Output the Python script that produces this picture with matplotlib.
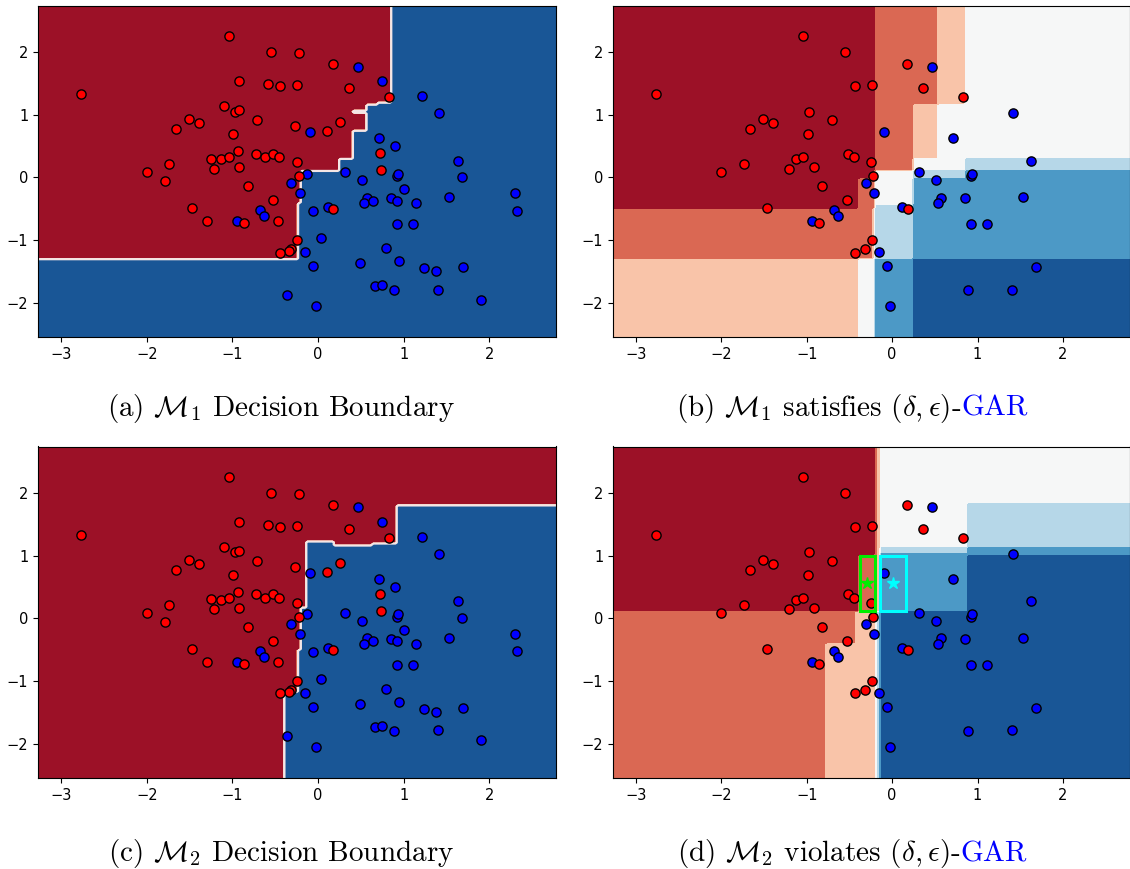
import numpy as np
import matplotlib
matplotlib.use("Agg")
import matplotlib.pyplot as plt
from matplotlib.path import Path
from matplotlib.patches import Rectangle

plt.rcParams["mathtext.fontset"] = "cm"

# ---------------- data ----------------
red_x = [-1.04, -0.55, -0.22, -0.92, -0.58, -0.44, -0.24, -2.77, -1.10, -0.97,
         -0.92, -1.51, -1.39, -0.71, -0.27, -1.66, -0.99, -0.93, -1.25, -1.13,
         -1.04, -0.72, -0.62, -0.52, -0.45, -0.25, -1.74, -1.21, -0.92, -2.00,
         0.17, 0.36, 0.83, 0.26, 0.11, 0.73, 0.74, -0.22, 0.18, -0.24,
         -0.32, -0.34, -0.44, -1.79, -0.82, -0.53, -1.47, -1.30, -0.86, -0.47]
red_y = [2.26, 2.00, 1.98, 1.54, 1.49, 1.46, 1.47, 1.33, 1.14, 1.05,
         1.07, 0.93, 0.87, 0.91, 0.82, 0.77, 0.69, 0.42, 0.30, 0.29,
         0.32, 0.38, 0.32, 0.38, 0.32, 0.24, 0.21, 0.14, 0.17, 0.08,
         1.81, 1.43, 1.28, 0.88, 0.74, 0.39, 0.12, 0.02, -0.51, -1.00,
         -1.14, -1.18, -1.20, -0.06, -0.14, -0.36, -0.49, -0.69, -0.73, -0.70]
blue_x = [0.47, 0.75, 1.21, 1.41, -0.09, 0.71, 0.90, 1.63, 0.92, 0.94,
          0.32, -0.13, 1.68, -0.31, 0.51, -0.21, 0.57, 0.54, 0.64, 0.85,
          0.92, 1.01, 1.15, 1.53, 2.30, 2.32, -0.06, 0.12, 0.92, 1.11,
          0.03, -0.15, 0.79, -0.06, 0.49, 0.95, 1.24, 1.38, 1.69, 0.67,
          0.75, 0.89, 1.40, 1.90, -0.02, -0.36, -0.68, -0.63, -0.94]
blue_y = [1.77, 1.54, 1.30, 1.03, 0.72, 0.63, 0.50, 0.27, 0.02, 0.06,
          0.09, 0.06, 0.01, -0.09, -0.04, -0.25, -0.32, -0.41, -0.37, -0.33,
          -0.37, -0.18, -0.41, -0.31, -0.25, -0.53, -0.54, -0.47, -0.75, -0.75,
          -0.97, -1.19, -1.13, -1.42, -1.36, -1.33, -1.45, -1.50, -1.43, -1.73,
          -1.72, -1.80, -1.79, -1.95, -2.05, -1.88, -0.52, -0.62, -0.70]
# points shown in the GAR panels (b) and (d)
red_sub = [0, 1, 5, 6, 7, 9, 11, 12, 13, 15, 16, 19, 20, 23, 24, 25, 26, 27, 28, 29,
           30, 31, 32, 37, 38, 39, 40, 42, 44, 45, 46, 48]
blue_sub = [0, 3, 4, 5, 7, 8, 9, 10, 13, 14, 15, 16, 17, 19, 23, 27, 28, 29, 31, 33,
            38, 41, 42, 44, 46, 47, 48]

# M1 decision boundary: class-0 (red) region polygon
m1_red_vx = [-3.6, 0.855, 0.855, 0.58, 0.57, 0.40, 0.40, 0.56, 0.56, 0.41, 0.41,
             0.26, 0.26, -0.19, -0.19, -0.24, -0.24, -3.6]
m1_red_vy = [3.0, 3.0, 1.20, 1.16, 1.07, 1.05, 1.03, 1.02, 0.76, 0.745, 0.30,
             0.30, 0.11, 0.10, -0.38, -0.41, -1.31, -1.31]
# M2 decision boundary: class-1 (blue) region polygon
m2_blue_vx = [3.2, 0.92, 0.92, 0.175, 0.175, -0.145, -0.145, -0.19, -0.19, -0.25,
              -0.22, -0.23, -0.23, -0.385, -0.385, 3.2]
m2_blue_vy = [1.80, 1.80, 1.18, 1.17, 1.23, 1.24, 0.18, 0.15, -0.50, -0.54,
              -0.57, -0.62, -1.17, -1.22, -3.0, -3.0]

# M1 probability bands (0 = most red ... 6 = most blue), rows bottom -> top
m1_xedges = [-3.6, -0.39, -0.24, -0.19, 0.25, 0.55, 0.85, 3.2]
m1_yedges = [-3.0, -1.30, -0.50, -0.45, -0.01, 0.10, 0.29, 1.17, 3.0]
m1_bands = [[2, 3, 3, 5, 6, 6, 6],
            [1, 1, 2, 4, 5, 5, 5],
            [0, 1, 1, 4, 5, 5, 5],
            [0, 1, 1, 3, 5, 5, 5],
            [0, 0, 0, 3, 4, 4, 5],
            [0, 0, 0, 1, 3, 3, 4],
            [0, 0, 0, 1, 2, 3, 3],
            [0, 0, 0, 1, 1, 2, 3]]
# M2 probability bands
m2_xedges = [-3.6, -0.76, -0.41, -0.38, -0.195, -0.165, -0.13, 0.88, 3.2]
m2_yedges = [-3.0, -0.40, 0.11, 0.99, 1.04, 1.14, 1.82, 3.0]
m2_bands = [[1, 2, 2, 2, 3, 4, 6, 6],
            [1, 1, 2, 2, 3, 4, 6, 6],
            [0, 0, 0, 1, 1, 2, 5, 6],
            [0, 0, 0, 0, 1, 2, 5, 5],
            [0, 0, 0, 0, 1, 2, 4, 5],
            [0, 0, 0, 0, 1, 2, 3, 4],
            [0, 0, 0, 0, 1, 2, 3, 3]]

# neighbourhood boxes in (d): center x, center y, width, height
green_box = (-0.29, 0.555, 0.18, 0.88)
cyan_box = (0.01, 0.555, 0.31, 0.88)

captions = [
    [(r"(a) $\mathcal{M}_1$ Decision Boundary", "black")],
    [(r"(b) $\mathcal{M}_1$ satisfies $(\delta, \epsilon)$-", "black"), ("GAR", "blue")],
    [(r"(c) $\mathcal{M}_2$ Decision Boundary", "black")],
    [(r"(d) $\mathcal{M}_2$ violates $(\delta, \epsilon)$-", "black"), ("GAR", "blue")],
]

XLIM = (-3.27, 2.78)
YLIM = (-2.55, 2.74)

# ---------------- plotting ----------------
W, H = 1130, 869
fig = plt.figure(figsize=(W / 100, H / 100), dpi=100)

levels = np.linspace(0, 1, 8)
band_colors = [plt.cm.RdBu((2 * k + 1) / 14) for k in range(7)]

h = 0.032
xs = np.arange(XLIM[0] - 0.05, XLIM[1] + 0.05, h)
ys = np.arange(YLIM[0] - 0.05, YLIM[1] + 0.05, h)
xx, yy = np.meshgrid(xs, ys)
pts = np.column_stack([xx.ravel(), yy.ravel()])


def band_value(k):
    return (2 * np.asarray(k) + 1) / 14.0


def z_from_poly(vx, vy, inside_band, outside_band):
    p = Path(np.column_stack([vx, vy]))
    inside = p.contains_points(pts).reshape(xx.shape)
    return np.where(inside, band_value(inside_band), band_value(outside_band))


def z_from_cells(xe, ye, bands):
    b = np.array(bands)
    ix = np.clip(np.searchsorted(xe, xx, side="right") - 1, 0, b.shape[1] - 1)
    iy = np.clip(np.searchsorted(ye, yy, side="right") - 1, 0, b.shape[0] - 1)
    return band_value(b[iy, ix])


Z = [z_from_poly(m1_red_vx, m1_red_vy, 0, 6),
     z_from_cells(m1_xedges, m1_yedges, m1_bands),
     z_from_poly(m2_blue_vx, m2_blue_vy, 6, 0),
     z_from_cells(m2_xedges, m2_yedges, m2_bands)]

rects = [(38, 5.7), (613, 5.7), (38, 446.5), (613, 446.5)]
aw, ah = 518, 331.6
rx, ry = np.array(red_x), np.array(red_y)
bx, by = np.array(blue_x), np.array(blue_y)

axes = []
for i, (lx, ty) in enumerate(rects):
    ax = fig.add_axes([lx / W, 1 - (ty + ah) / H, (aw if i % 2 == 0 else 516.5) / W, ah / H])
    ax.contourf(xx, yy, Z[i], levels=levels, colors=band_colors)
    if i % 2 == 0:
        # soft light boundary line between the two decision regions
        ax.contour(xx, yy, Z[i], levels=[0.5], colors=["#f4e6e6"], linewidths=1.6)
        ax.scatter(bx, by, c="#0000ff", s=44, edgecolors="black", linewidths=1.0, zorder=3)
        ax.scatter(rx, ry, c="#ff0000", s=44, edgecolors="black", linewidths=1.0, zorder=3)
    else:
        ax.scatter(bx[blue_sub], by[blue_sub], c="#0000ff", s=44, edgecolors="black",
                   linewidths=1.0, zorder=3)
        ax.scatter(rx[red_sub], ry[red_sub], c="#ff0000", s=44, edgecolors="black",
                   linewidths=1.0, zorder=3)
    ax.set_xlim(*XLIM)
    ax.set_ylim(*YLIM)
    ax.set_xticks([-3, -2, -1, 0, 1, 2])
    ax.set_yticks([-2, -1, 0, 1, 2])
    ax.tick_params(labelsize=10.5)
    axes.append(ax)

axd = axes[3]
for (cx, cy, bw, bh), col in [(green_box, "#00ee00"), (cyan_box, "#00ffff")]:
    axd.add_patch(Rectangle((cx - bw / 2, cy - bh / 2), bw, bh, fill=False,
                            edgecolor=col, linewidth=2.2, zorder=4))
    axd.plot([cx], [cy], marker="*", color=col, markersize=9, zorder=5)

# ---------------- captions ----------------
cap_pos = [(281, 416), (852, 416), (281, 861), (852, 861)]
FS = 21
fig.canvas.draw()
renderer = fig.canvas.get_renderer()
for parts, (xc, yb) in zip(captions, cap_pos):
    texts = [fig.text(0, 1 - yb / H, s, color=c, fontsize=FS, family="cmr10",
                      ha="left", va="baseline") for s, c in parts]
    widths = [t.get_window_extent(renderer).width for t in texts]
    x = xc - sum(widths) / 2
    for t, w in zip(texts, widths):
        t.set_x(x / W)
        x += w

fig.savefig("out.png", dpi=100)
